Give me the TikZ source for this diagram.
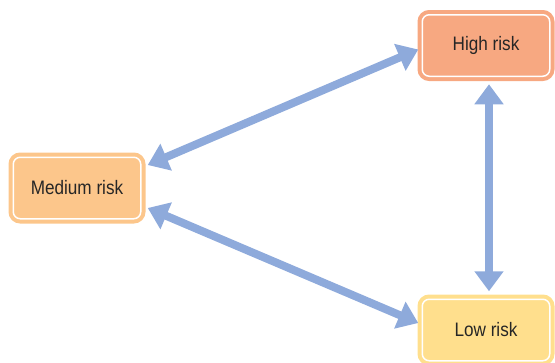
\documentclass[tikz,border=0pt]{standalone}
\usepackage{fontspec}
\setmainfont{Liberation Sans}[FakeStretch=0.88]
\usetikzlibrary{calc,arrows.meta}
\definecolor{highfill}{RGB}{247,168,129}
\definecolor{mediumfill}{RGB}{252,198,139}
\definecolor{lowfill}{RGB}{255,223,141}
\definecolor{linkblue}{RGB}{142,170,219}
\tikzset{
  risk/.style={draw=#1,fill=#1,double=white,double distance=1.5pt,line width=4pt,rounded corners=7pt,minimum width=127.5pt,minimum height=61.5pt,font=\fontsize{19.5}{22}\selectfont,text=black!85},
  link/.style={line width=8pt,draw=linkblue,{Triangle[length=20pt,width=28pt]}-{Triangle[length=20pt,width=28pt]}}
}

\begin{document}
\begin{tikzpicture}[x=1pt,y=1pt]
  \useasboundingbox (0,0) rectangle (555,-362);
  \node[risk=highfill] (high) at (486,-45.5) {High risk};
  \node[risk=mediumfill] (medium) at (77,-188) {Medium risk};
  \node[risk=lowfill] (low) at (486,-330) {Low risk};

  \draw[link] ($ (medium.east) + (5,23) $) -- ($ (high.west) + (-2,-4) $);
  \draw[link] ($ (medium.east) + (5,-20) $) -- ($ (low.west) + (-2,7) $);
  \draw[link] ($ (high.south) + (3,-6) $) -- ($ (low.north) + (3,6) $);
\end{tikzpicture}
\end{document}
